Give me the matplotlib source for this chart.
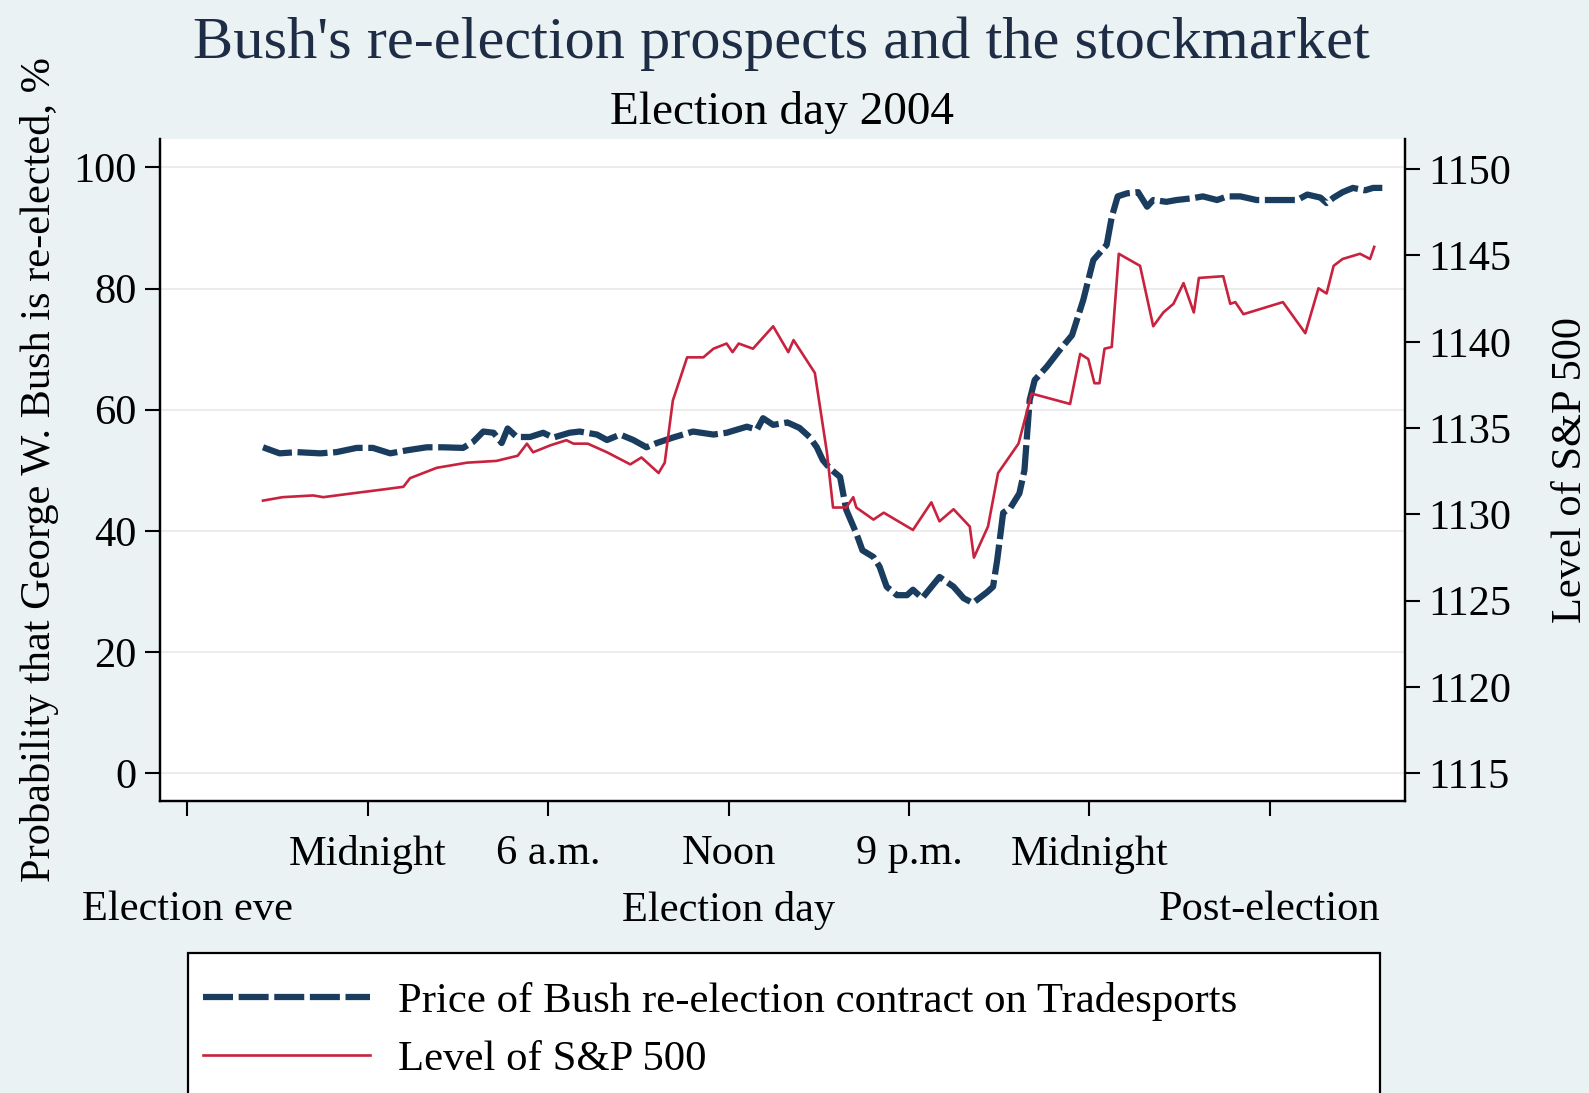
import matplotlib
matplotlib.use("Agg")
import matplotlib.pyplot as plt
from matplotlib.patches import Rectangle

# time index: 0 = election eve, 3 = noon election day, 6 = post-election
tick_pos = [0, 1, 2, 3, 4, 5, 6]
tick_labels = ["\nElection eve", "Midnight", "6 a.m.", "Noon\nElection day",
               "9 p.m.", "Midnight", "\nPost-election"]

# Tradesports price of Bush re-election contract (%)
bush_t = [0.419, 0.511, 0.607, 0.736, 0.826, 0.938, 1.028, 1.124, 1.216, 1.326,
          1.416, 1.528, 1.584, 1.640, 1.697, 1.742, 1.775, 1.826, 1.899, 1.972,
          2.028, 2.118, 2.174, 2.270, 2.326, 2.399, 2.472, 2.545, 2.601, 2.691,
          2.803, 2.916, 2.989, 3.101, 3.157, 3.191, 3.247, 3.326, 3.393, 3.449,
          3.489, 3.522, 3.562, 3.618, 3.652, 3.708, 3.742, 3.803, 3.837, 3.876,
          3.933, 3.989, 4.022, 4.073, 4.169, 4.247, 4.303, 4.354, 4.433, 4.466,
          4.489, 4.522, 4.562, 4.612, 4.640, 4.669, 4.697, 4.764, 4.837, 4.904,
          4.966, 5.022, 5.096, 5.124, 5.157, 5.208, 5.270, 5.320, 5.354, 5.427,
          5.483, 5.573, 5.629, 5.708, 5.764, 5.837, 5.927, 6.017, 6.152, 6.208,
          6.281, 6.315, 6.354, 6.404, 6.461, 6.528, 6.573, 6.624]
bush_p = [53.8, 52.8, 53.0, 52.8, 53.0, 53.7, 53.7, 52.8, 53.3, 53.8,
          53.8, 53.7, 54.7, 56.4, 56.2, 54.5, 56.9, 55.5, 55.5, 56.2,
          55.4, 56.2, 56.4, 55.9, 55.0, 55.9, 55.0, 53.8, 54.5, 55.4,
          56.4, 55.9, 56.2, 57.2, 56.7, 58.6, 57.5, 57.9, 57.0, 55.5,
          53.8, 51.7, 50.3, 48.9, 43.5, 39.6, 36.8, 35.7, 34.1, 30.8,
          29.4, 29.4, 30.3, 28.9, 32.4, 30.8, 28.9, 28.1, 29.9, 30.8,
          35.2, 43.0, 43.8, 46.2, 50.0, 61.6, 64.9, 67.1, 69.9, 72.3,
          78.1, 84.7, 87.2, 91.8, 95.2, 95.7, 95.9, 93.5, 94.6, 94.3,
          94.6, 94.9, 95.2, 94.6, 95.2, 95.2, 94.6, 94.6, 94.6, 95.5,
          95.0, 94.1, 95.0, 95.9, 96.6, 96.2, 96.6, 96.6]

# S&P 500 level
sp_t = [0.419, 0.528, 0.697, 0.753, 0.899, 1.051, 1.197, 1.234, 1.382, 1.551,
        1.713, 1.831, 1.882, 1.916, 2.011, 2.101, 2.140, 2.219, 2.326, 2.455,
        2.517, 2.612, 2.646, 2.691, 2.770, 2.860, 2.916, 2.989, 3.022, 3.056,
        3.135, 3.247, 3.331, 3.360, 3.478, 3.545, 3.579, 3.652, 3.691, 3.708,
        3.803, 3.860, 4.022, 4.124, 4.169, 4.247, 4.337, 4.360, 4.438, 4.494,
        4.607, 4.680, 4.893, 4.949, 4.994, 5.028, 5.056, 5.084, 5.124, 5.163,
        5.281, 5.354, 5.410, 5.466, 5.522, 5.579, 5.607, 5.742, 5.781, 5.809,
        5.854, 6.073, 6.197, 6.270, 6.315, 6.354, 6.404, 6.500, 6.556, 6.579]
sp_level = [1130.8, 1131.0, 1131.1, 1131.0, 1131.2, 1131.4, 1131.6, 1132.1, 1132.7, 1133.0,
            1133.1, 1133.4, 1134.1, 1133.6, 1134.0, 1134.3, 1134.1, 1134.1, 1133.6, 1132.9,
            1133.3, 1132.4, 1133.0, 1136.6, 1139.1, 1139.1, 1139.6, 1139.9, 1139.4, 1139.9,
            1139.6, 1140.9, 1139.4, 1140.1, 1138.2, 1133.6, 1130.4, 1130.4, 1131.0, 1130.4,
            1129.7, 1130.1, 1129.1, 1130.7, 1129.6, 1130.3, 1129.3, 1127.5, 1129.3, 1132.4,
            1134.1, 1137.0, 1136.4, 1139.3, 1139.0, 1137.6, 1137.6, 1139.6, 1139.7, 1145.1,
            1144.4, 1140.9, 1141.7, 1142.2, 1143.4, 1141.7, 1143.7, 1143.8, 1142.2, 1142.3,
            1141.6, 1142.3, 1140.5, 1143.1, 1142.8, 1144.4, 1144.8, 1145.1, 1144.8, 1145.5]

left_ticks = [0, 20, 40, 60, 80, 100]
right_ticks = [1115, 1120, 1125, 1130, 1135, 1140, 1145, 1150]

bg = "#eaf2f3"
navy = "#1a3d5f"
red = "#c8223f"
fs = 30.5

plt.rcParams["font.family"] = ["Liberation Serif", "DejaVu Serif"]

fig = plt.figure(figsize=(15.89, 10.93), dpi=100, facecolor=bg)
ax = fig.add_axes([0.1007, 0.2675, 0.7832, 0.6055])
ax2 = ax.twinx()

ax.plot(bush_t, bush_p, color=navy, lw=4.5, dashes=(4.8, 0.9),
        label="Price of Bush re-election contract on Tradesports", zorder=3)
ax2.plot(sp_t, sp_level, color=red, lw=1.9, label="Level of S&P 500", zorder=3)

ax.set_xlim(-0.152, 6.747)
ax.set_ylim(-4.5, 104.7)
ax2.set_ylim(1113.42, 1151.76)

ax.set_yticks(left_ticks)
ax.set_yticklabels([str(v) for v in left_ticks])
ax2.set_yticks(right_ticks)
ax2.set_yticklabels([str(v) for v in right_ticks])
ax.set_xticks(tick_pos)
ax.set_xticklabels(tick_labels)
for lab in ax.get_xticklabels():
    lab.set_linespacing(1.6)

ax.grid(axis="y", color="#ececec", lw=1.5)
ax.set_axisbelow(True)
ax.set_facecolor("white")

for a in (ax, ax2):
    a.spines["top"].set_visible(False)
    for s in ("left", "right", "bottom"):
        a.spines[s].set_color("black")
        a.spines[s].set_linewidth(1.6)
ax.tick_params(axis="both", direction="out", length=11, width=1.5,
               labelsize=fs, colors="black")
ax.tick_params(axis="x", pad=13.5)
ax.tick_params(axis="y", pad=6)
ax2.tick_params(axis="y", direction="out", length=11, width=1.5,
                labelsize=fs, pad=6)

ax.set_ylabel("Probability that George W. Bush is re-elected, %", fontsize=fs)
ax.yaxis.set_label_coords(-0.081, 0.5)
ax2.set_ylabel("Level of S&P 500", fontsize=fs)
ax2.yaxis.set_label_coords(1.118, 0.5)

fig.text(0.492, 0.947, "Bush's re-election prospects and the stockmarket",
         fontsize=43.5, color="#1e2d45", ha="center", va="baseline")
fig.text(0.492, 0.887, "Election day 2004", fontsize=34, color="black",
         ha="center", va="baseline")

# legend box (cut off at the bottom of the figure)
box = Rectangle((187.5 / 1589, -0.05), (1380 - 187.5) / 1589, 0.05 + 1 - 952.6 / 1093,
                transform=fig.transFigure, facecolor="white", edgecolor="black",
                lw=1.6, zorder=1)
fig.add_artist(box)

h1, l1 = ax.get_legend_handles_labels()
h2, l2 = ax2.get_legend_handles_labels()
leg = fig.legend(h1 + h2, l1 + l2, loc="upper left",
                 bbox_to_anchor=(203 / 1589, 1 - 982 / 1093),
                 frameon=False, fontsize=30.8, handlelength=3.9,
                 handletextpad=0.65, borderpad=0, borderaxespad=0,
                 labelspacing=0.45)
leg.set_zorder(2)

fig.savefig("out.png", dpi=100, facecolor=bg)
